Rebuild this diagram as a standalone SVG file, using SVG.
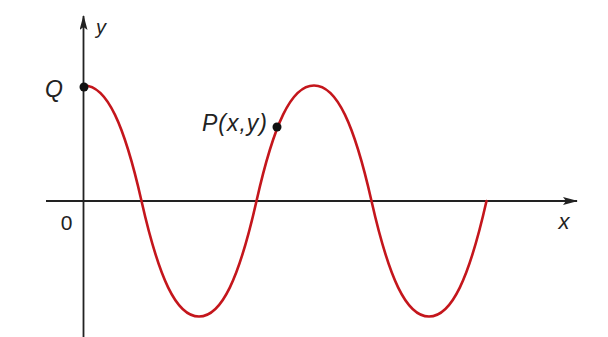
<svg xmlns="http://www.w3.org/2000/svg" width="608" height="337" viewBox="0 0 608 337">
<style>
.axis{stroke:#222;stroke-width:1.8;fill:none}
.wave{stroke:#c4161c;stroke-width:2.6;fill:none;stroke-linecap:round}
.pt{fill:#111}
.lbl{font-family:"Liberation Sans",Arial,sans-serif;fill:#222}
.it{font-style:italic}
</style>
<defs>
<marker id="arr" viewBox="0 0 15 8" refX="14" refY="4" markerWidth="15" markerHeight="8" markerUnits="userSpaceOnUse" orient="auto">
<path d="M0,0 L15,4 L0,8 L3,4 Z" fill="#222"/>
</marker>
</defs>
<rect width="608" height="337" fill="#fff"/>
<g id="connectors">
<line id="x-axis" class="axis" x1="46" y1="201" x2="577" y2="201" marker-end="url(#arr)"/>
<line id="y-axis" class="axis" x1="83.5" y1="337" x2="83.5" y2="16" marker-end="url(#arr)"/>
<path id="wave" class="wave" d="M84,85.5 C107,85.5 124.25,124.8 141.5,201 C158.75,277.2 176,316.5 199,316.5 C222,316.5 239.25,277.2 256.5,201 C273.75,124.8 291,85.5 314,85.5 C337,85.5 354.25,124.8 371.5,201 C388.75,277.2 406,316.5 429,316.5 C452,316.5 469.25,277.2 486.5,201"/>
</g>
<g id="origin"><text class="lbl" x="66.5" y="230" font-size="21" text-anchor="middle">0</text></g>
<g id="x-label"><text class="lbl it" x="564" y="229" font-size="22" text-anchor="middle">x</text></g>
<g id="y-label"><text class="lbl it" x="101" y="34" font-size="20" text-anchor="middle">y</text></g>
<g id="Q">
<circle class="pt" cx="84" cy="87" r="4.5"/>
<text class="lbl it" x="54" y="97" font-size="23" text-anchor="middle">Q</text>
</g>
<g id="P">
<circle class="pt" cx="277" cy="127" r="4.5"/>
<text class="lbl it" x="202" y="131" font-size="23" textLength="65" lengthAdjust="spacing">P(x,y)</text>
</g>
</svg>
